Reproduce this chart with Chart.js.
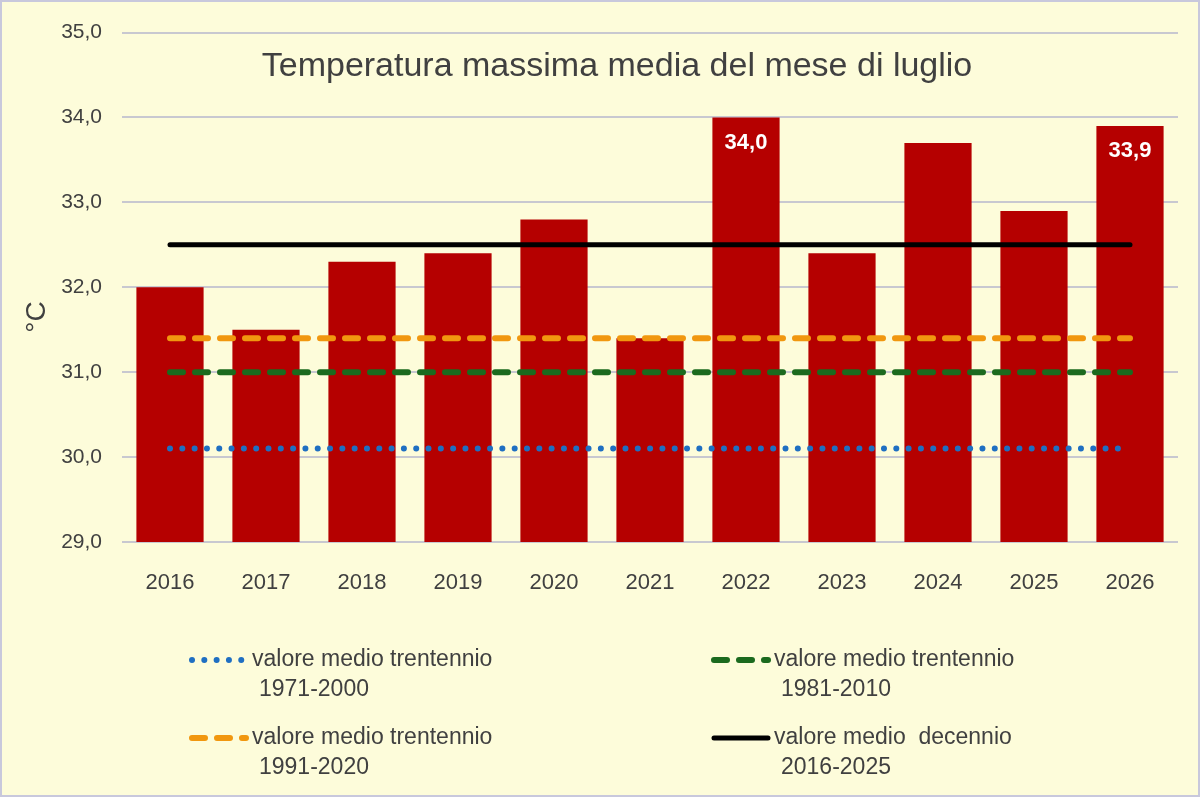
<!DOCTYPE html>
<html>
<head>
<meta charset="utf-8">
<title>Temperatura massima media del mese di luglio</title>
<script src="https://cdn.jsdelivr.net/npm/chart.js@4.4.1/dist/chart.umd.min.js"></script>
<style>
  html, body { margin: 0; padding: 0; background: #fdfcda; }
  #wrap { width: 1200px; height: 797px; }
</style>
</head>
<body>
<div id="wrap"><canvas id="myChart" width="1200" height="797"></canvas></div>
<script>
// anni e temperature massime medie di luglio (°C)
var anni = ['2016', '2017', '2018', '2019', '2020', '2021', '2022', '2023', '2024', '2025', '2026']
var tmax = [32.0, 31.5, 32.3, 32.4, 32.8, 31.4, 34.0, 32.4, 33.7, 32.9, 33.9]

// valori medi di riferimento, uno per anno
var media7100 = [30.1, 30.1, 30.1, 30.1, 30.1, 30.1, 30.1, 30.1, 30.1, 30.1, 30.1]
var media8110 = [31.0, 31.0, 31.0, 31.0, 31.0, 31.0, 31.0, 31.0, 31.0, 31.0, 31.0]
var media9120 = [31.4, 31.4, 31.4, 31.4, 31.4, 31.4, 31.4, 31.4, 31.4, 31.4, 31.4]
var media1625 = [32.5, 32.5, 32.5, 32.5, 32.5, 32.5, 32.5, 32.5, 32.5, 32.5, 32.5]

var anniEtichettati = ['2022', '2026']
var yTicks = [29, 30, 31, 32, 33, 34, 35]

var titolo = 'Temperatura massima media del mese di luglio'
var unita = '°C'

var grigio = '#404040'
var fontAssi = "'Liberation Sans', Arial, sans-serif"
var fontLegenda = "'Liberation Sans Narrow', 'Liberation Sans', Arial, sans-serif"

function virgola(v) {
  return v.toFixed(1).replace('.', ',')
}

// sfondo, cornice, titolo, unità, etichette e legenda
var decorazioni = {
  id: 'decorazioni',
  beforeDraw(chart) {
    var c = chart.ctx
    c.save()
    c.fillStyle = '#fdfcda'
    c.fillRect(0, 0, chart.width, chart.height)
    c.restore()
  },
  afterDraw(chart) {
    var c = chart.ctx
    var area = chart.chartArea
    c.save()

    // titolo dentro l'area del grafico
    c.fillStyle = grigio
    c.font = "34px " + fontAssi
    c.textAlign = 'center'
    c.textBaseline = 'middle'
    c.fillText(titolo, (area.left + area.right) / 2 - 33, area.top + 34)

    // unità dell'asse y
    c.save()
    c.translate(37, 317)
    c.rotate(-Math.PI / 2)
    c.font = "28px " + fontAssi
    c.fillText(unita, 0, 0)
    c.restore()

    // valori sulle barre scelte
    var meta = chart.getDatasetMeta(0)
    c.fillStyle = '#ffffff'
    c.font = "bold 22px " + fontAssi
    anni.forEach(function (a, i) {
      if (anniEtichettati.indexOf(a) < 0) return
      var bar = meta.data[i]
      c.fillText(virgola(tmax[i]), bar.x, bar.y + 25)
    })

    // legenda su due colonne
    var posti = [[190, 660], [712, 660], [190, 738], [712, 738]]
    chart.data.datasets.slice(1).forEach(function (ds, k) {
      var x = posti[k][0], y = posti[k][1]
      c.save()
      c.strokeStyle = ds.borderColor
      c.lineWidth = ds.borderWidth
      c.lineCap = ds.borderCapStyle || 'butt'
      c.setLineDash(ds.borderDash || [])
      c.beginPath()
      c.moveTo(x + 2, y)
      c.lineTo(x + 56, y)
      c.stroke()
      c.restore()
      var righe = ds.label.split('\n')
      c.fillStyle = grigio
      c.font = "23px " + fontLegenda
      c.textAlign = 'left'
      c.fillText(righe[0], x + 62, y)
      c.fillText(righe[1], x + 69, y + 30)
    })

    // cornice
    c.strokeStyle = '#c8c8dc'
    c.lineWidth = 2
    c.setLineDash([])
    c.strokeRect(1, 1, chart.width - 2, chart.height - 2)
    c.restore()
  }
}

var ctx = document.getElementById('myChart').getContext('2d')
var chart = new Chart(ctx, {
  type: 'bar',
  data: {
    labels: anni,
    datasets: [
      {
        type: 'bar',
        label: 'Tmax luglio',
        data: tmax,
        backgroundColor: '#b50000',
        borderWidth: 0,
        barPercentage: 0.7,
        categoryPercentage: 1.0,
        order: 5
      },
      {
        type: 'line',
        label: 'valore medio trentennio\n1971-2000',
        data: media7100,
        borderColor: '#1f6fc2',
        borderWidth: 6,
        borderDash: [0.01, 12.3],
        borderCapStyle: 'round',
        pointRadius: 0,
        fill: false,
        order: 3
      },
      {
        type: 'line',
        label: 'valore medio trentennio\n1981-2010',
        data: media8110,
        borderColor: '#1b6a1e',
        borderWidth: 6,
        borderDash: [13, 12],
        borderCapStyle: 'round',
        pointRadius: 0,
        fill: false,
        order: 2
      },
      {
        type: 'line',
        label: 'valore medio trentennio\n1991-2020',
        data: media9120,
        borderColor: '#f1970f',
        borderWidth: 6,
        borderDash: [13, 12],
        borderCapStyle: 'round',
        pointRadius: 0,
        fill: false,
        order: 1
      },
      {
        type: 'line',
        label: 'valore medio  decennio\n2016-2025',
        data: media1625,
        borderColor: '#000000',
        borderWidth: 5,
        borderCapStyle: 'round',
        pointRadius: 0,
        fill: false,
        order: 0
      }
    ]
  },
  options: {
    responsive: false,
    animation: false,
    layout: { padding: { left: 0, right: 22, top: 32, bottom: 0 } },
    plugins: {
      legend: { display: false },
      title: { display: false },
      tooltip: { enabled: false }
    },
    scales: {
      x: {
        grid: { display: false },
        border: { display: false },
        ticks: { color: grigio, font: { family: fontAssi, size: 22 }, padding: 20 },
        afterFit: function (s) { s.height = 797 - 32 - 510 }
      },
      y: {
        min: yTicks[0],
        max: yTicks[yTicks.length - 1],
        afterBuildTicks: function (s) { s.ticks = yTicks.map(function (v) { return { value: v } }) },
        grid: { color: '#c8c8d0', lineWidth: 2, drawTicks: false },
        border: { display: false },
        ticks: {
          color: grigio,
          font: { family: fontAssi, size: 21 },
          padding: 20,
          callback: function (v) { return virgola(v) }
        },
        afterFit: function (s) { s.width = 122 }
      }
    }
  },
  plugins: [decorazioni]
})
</script>
</body>
</html>
